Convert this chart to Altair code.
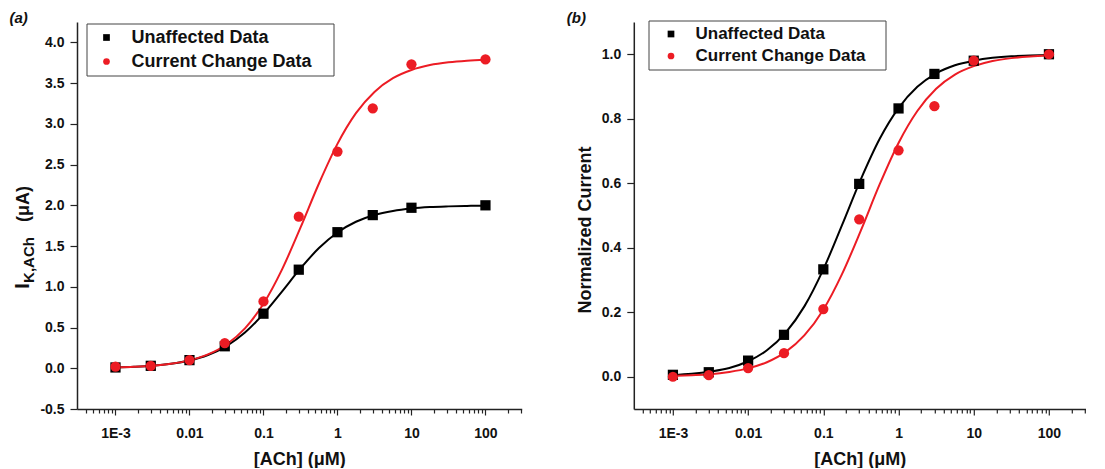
import altair as alt
import pandas as pd
import math

# ---------------- data ----------------
conc = [0.001, 0.003, 0.01, 0.03, 0.1, 0.3, 1, 3, 10, 100]
series_names = ["Unaffected Data", "Current Change Data"]

unaffected_a = [0.01, 0.03, 0.10, 0.27, 0.67, 1.21, 1.67, 1.88, 1.97, 2.00]
change_a = [0.02, 0.03, 0.10, 0.31, 0.82, 1.86, 2.66, 3.19, 3.73, 3.79]
unaffected_b = [0.006, 0.014, 0.050, 0.130, 0.333, 0.598, 0.832, 0.939, 0.980, 1.000]
change_b = [0.000, 0.005, 0.027, 0.073, 0.210, 0.488, 0.702, 0.839, 0.980, 1.000]

# fitted curves
fit_x = [0.001, 0.001778, 0.003162, 0.005623, 0.01, 0.01778, 0.03162, 0.05623,
         0.1, 0.1778, 0.3162, 0.5623, 1, 1.778, 3.162, 5.623, 10, 17.78, 31.62, 56.23, 100]
fit_unaffected_a = [0.010, 0.018, 0.031, 0.055, 0.095, 0.163, 0.273, 0.439, 0.667, 0.941,
                    1.225, 1.475, 1.667, 1.798, 1.881, 1.931, 1.961, 1.978, 1.987, 1.993, 1.996]
fit_change_a = [0.010, 0.018, 0.031, 0.055, 0.097, 0.170, 0.292, 0.490, 0.792, 1.211,
                1.726, 2.268, 2.754, 3.131, 3.392, 3.560, 3.661, 3.721, 3.755, 3.775, 3.786]
fit_unaffected_b = [0.005, 0.009, 0.016, 0.027, 0.048, 0.082, 0.137, 0.219, 0.333, 0.471,
                    0.613, 0.738, 0.833, 0.899, 0.941, 0.966, 0.980, 0.989, 0.994, 0.996, 0.998]
fit_change_b = [0.003, 0.005, 0.008, 0.015, 0.026, 0.045, 0.077, 0.129, 0.208, 0.319,
                0.454, 0.597, 0.725, 0.824, 0.893, 0.937, 0.963, 0.979, 0.988, 0.993, 0.996]

x_major_ticks = [0.001, 0.01, 0.1, 1, 10, 100]
x_minor_mult = [2, 3, 4, 5, 6, 7, 8, 9]
ya_ticks = [-0.5, -0.25, 0.0, 0.25, 0.5, 0.75, 1.0, 1.25, 1.5, 1.75, 2.0, 2.25,
            2.5, 2.75, 3.0, 3.25, 3.5, 3.75, 4.0]
yb_ticks = [0.0, 0.1, 0.2, 0.3, 0.4, 0.5, 0.6, 0.7, 0.8, 0.9, 1.0]

BLACK = "#000000"
RED = "#EC1C24"
FONT = "Liberation Sans"

H = 387
x_domain = [10 ** -3.52, 10 ** 2.49]
DECADE_A = 74.0
DECADE_B = 75.2

major_x_test = "abs(log(datum.value)/LN10 - round(log(datum.value)/LN10)) < 0.001"


def ticks_for(dom):
    minor = [m * d for d in [0.0001] + x_major_ticks for m in x_minor_mult]
    minor = [v for v in minor if dom[0] <= v <= dom[1]]
    return sorted(x_major_ticks + minor)


def x_axis(dom):
    return alt.Axis(
        values=ticks_for(dom),
        title="[ACh] (\u03bcM)",
        titleFont=FONT, titleFontSize=18, titleFontWeight="bold", titleColor="#111",
        titleY=55, titleBaseline="alphabetic", titleAlign="center",
        labelExpr=("(" + major_x_test + ") ? (datum.value < 0.002 ? '1E-3' : "
                   "format(datum.value, '~g')) : ''"),
        labelFont=FONT, labelFontSize=14, labelFontWeight="bold", labelColor="#111",
        labelPadding=11, labelOverlap=False, labelFlush=False,
        tickSize={"condition": {"test": major_x_test, "value": 6}, "value": 4},
        tickColor="#222", tickWidth=1.2, domainColor="#222", domainWidth=1.5,
        grid=False,
    )


def y_axis(values, mult, title=None, title_x=None, title_y=None):
    test = f"abs(datum.value*{mult} - round(datum.value*{mult})) < 0.001"
    kw = dict(
        values=values,
        labelExpr=f"({test}) ? replace(format(datum.value, '.1f'), '\u2212', '-') : ''",
        labelFont=FONT, labelFontSize=14, labelFontWeight="bold", labelColor="#111",
        labelPadding=6, labelOverlap=False, labelFlush=False,
        tickSize={"condition": {"test": test, "value": 7}, "value": 4},
        tickColor="#222", tickWidth=1.2, domainColor="#222", domainWidth=1.5,
        grid=False,
    )
    if title is None:
        kw["title"] = None
    else:
        kw.update(title=title, titleFont=FONT, titleFontSize=18, titleFontWeight="bold",
                  titleColor="#111", titleAngle=270, titleBaseline="alphabetic",
                  titleAlign="center", titleX=title_x, titleY=title_y)
    return alt.Axis(**kw)


def text_layer(txt, x, y, size, style="normal", align="center", angle=0):
    df = pd.DataFrame({"t": [txt]})
    return alt.Chart(df).mark_text(
        font=FONT, fontSize=size, fontWeight="bold", fontStyle=style, color="#111",
        align=align, baseline="alphabetic" if angle else "middle", angle=angle,
    ).encode(text="t:N", x=alt.value(x), y=alt.value(y))


def panel(pts_u, pts_c, fit_u, fit_c, decade, y_domain, yvals, ymult, ytitle_kw,
          legend_kw, extra_layers):
    width = round(decade * (math.log10(x_domain[1]) - math.log10(x_domain[0])), 1)
    pts = pd.DataFrame({
        "conc": conc + conc,
        "value": pts_u + pts_c,
        "series": [series_names[0]] * len(conc) + [series_names[1]] * len(conc),
    })
    fu = pd.DataFrame({"conc": fit_x, "value": fit_u})
    fc = pd.DataFrame({"conc": fit_x, "value": fit_c})

    xs = alt.Scale(type="log", domain=x_domain, nice=False)
    ys = alt.Scale(domain=y_domain, nice=False, zero=False)
    xenc = alt.X("conc:Q", scale=xs, axis=x_axis(x_domain))
    yenc = alt.Y("value:Q", scale=ys, axis=y_axis(yvals, ymult, **ytitle_kw))

    line_u = alt.Chart(fu).mark_line(color=BLACK, strokeWidth=2, interpolate="monotone").encode(
        x=xenc, y=yenc)
    line_c = alt.Chart(fc).mark_line(color=RED, strokeWidth=2, interpolate="monotone").encode(
        x=alt.X("conc:Q", scale=xs), y=alt.Y("value:Q", scale=ys))

    # an invisible spacer title on the right widens the legend frame like the original
    leg = alt.Legend(
        title="\u2014", titleOrient="right", titleOpacity=0, titlePadding=0,
        titleFont=FONT, titleFontWeight="normal",
        orient="none", strokeColor="#444", fillColor="white",
        padding=5, symbolSize=45, symbolStrokeWidth=0, labelLimit=600,
        labelFont=FONT, labelFontWeight="bold", labelColor="#111",
        **legend_kw,
    )
    points = alt.Chart(pts).mark_point(filled=True, size=105, opacity=1).encode(
        x=alt.X("conc:Q", scale=xs),
        y=alt.Y("value:Q", scale=ys),
        color=alt.Color("series:N", scale=alt.Scale(domain=series_names, range=[BLACK, RED]),
                        legend=leg),
        shape=alt.Shape("series:N", scale=alt.Scale(domain=series_names,
                                                    range=["square", "circle"]), legend=leg),
    )
    return alt.layer(line_u, line_c, points, *extra_layers).properties(width=width, height=H)


# panel (a)
extra_a = [
    text_layer("(a)", -67.5, -4, 15, style="italic", align="left"),
    text_layer("I", -47.7, 264, 20, angle=270),
    text_layer("K,ACh", -43.0, 238, 15, angle=270),
    text_layer("(\u03bcA)", -47.7, 182, 18, angle=270),
]
panel_a = panel(
    unaffected_a, change_a, fit_unaffected_a, fit_change_a, DECADE_A,
    [-0.5, 4.25], ya_ticks, 2, {},
    dict(legendX=9.5, legendY=1.5, labelFontSize=18, rowPadding=6,
         symbolOffset=6, labelOffset=16, titleFontSize=17),
    extra_a,
)

# panel (b)
extra_b = [
    text_layer("(b)", -67, -4, 15, style="italic", align="left"),
]
panel_b = panel(
    unaffected_b, change_b, fit_unaffected_b, fit_change_b, DECADE_B,
    [-0.1, 1.1], yb_ticks, 5,
    dict(title="Normalized Current", title_x=-43.8, title_y=207.5),
    dict(legendX=14.7, legendY=-1.5, labelFontSize=17, rowPadding=4,
         symbolOffset=9, labelOffset=16, titleFontSize=15),
    extra_b,
)

chart = alt.hconcat(panel_a, panel_b, spacing=111.8, bounds="flush").resolve_scale(
    color="independent", shape="independent"
).properties(
    padding={"left": 1, "top": 3, "right": 0, "bottom": 0},
    background="white",
).configure_view(stroke=None)

chart.save("out.html", embed_options={"renderer": "svg", "actions": False})
